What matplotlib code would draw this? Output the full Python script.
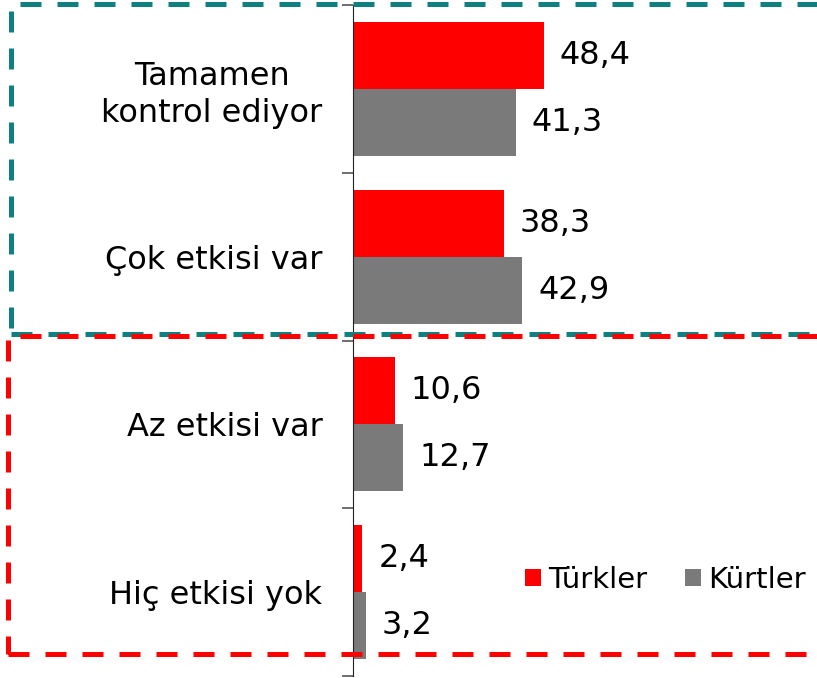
import matplotlib
matplotlib.use("Agg")
import matplotlib.pyplot as plt
from matplotlib.patches import Rectangle
import numpy as np

# ── data ──────────────────────────────────────────────────────────────────────
categories = ["Tamamen\nkontrol ediyor", "Çok etkisi var", "Az etkisi var", "Hiç etkisi yok"]
turkler = [48.4, 38.3, 10.6, 2.4]
kurtler = [41.3, 42.9, 12.7, 3.2]
series_names = ["Türkler", "Kürtler"]

RED = "#FF0000"
GRAY = "#7A7A7A"
TEAL = "#0F8080"

W, H = 817, 678
fig = plt.figure(figsize=(W / 100, H / 100), dpi=100)
ax = fig.add_axes([353 / W, 2 / H, 464 / W, 671 / H])

y = np.arange(len(categories))
ax.barh(y - 0.2, turkler, height=0.4, color=RED, label=series_names[0])
ax.barh(y + 0.2, kurtler, height=0.4, color=GRAY, label=series_names[1])

ax.set_xlim(0, 117.5)
ax.set_ylim(len(categories) - 0.5, -0.5)

# value labels, comma decimal
for yy, v in zip(y - 0.2, turkler):
    ax.text(v + 4.0, yy, f"{v:.1f}".replace(".", ","), va="center", ha="left", fontsize=23)
for yy, v in zip(y + 0.2, kurtler):
    ax.text(v + 4.0, yy, f"{v:.1f}".replace(".", ","), va="center", ha="left", fontsize=23)

# spines / ticks
for s in ["top", "right", "bottom"]:
    ax.spines[s].set_visible(False)
ax.spines["left"].set_color("#222222")
ax.set_xticks([])
ax.set_yticks(np.arange(-0.5, len(categories), 1.0))
ax.set_yticklabels([])
ax.tick_params(axis="y", length=8, color="#555555", width=1.2)
ax.set_yticks(y, minor=True)
ax.set_yticklabels(categories, minor=True, fontsize=23, multialignment="center",
                   linespacing=1.25)
ax.tick_params(axis="y", which="minor", length=0, pad=22)

fig.legend(*ax.get_legend_handles_labels(), loc="center right",
           bbox_to_anchor=(806 / W, 1 - 580 / H), frameon=False, fontsize=21,
           ncol=2, handlelength=0.55, handleheight=0.55, handletextpad=0.25,
           columnspacing=1.3, borderpad=0, borderaxespad=0)

# dashed boxes in pixel coordinates
def box(x0, y0, x1, y1, color):
    r = Rectangle((x0 / W, 1 - y1 / H), (x1 - x0) / W, (y1 - y0) / H,
                  transform=fig.transFigure, fill=False, edgecolor=color,
                  linewidth=3.6, linestyle=(0, (4.2, 3.2)), clip_on=False)
    fig.add_artist(r)

box(11, 4, 830, 334, TEAL)
box(8, 336, 819, 654, RED)

fig.savefig("out.png", dpi=100)
